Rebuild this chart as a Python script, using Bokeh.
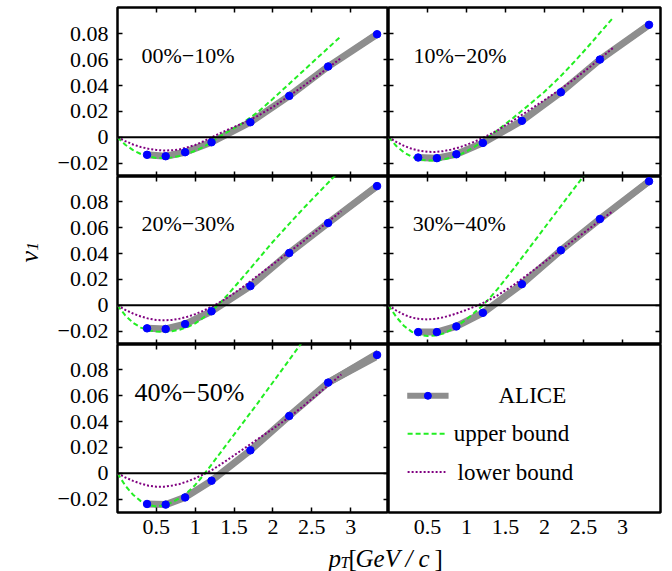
import math
from bokeh.plotting import figure
from bokeh.models import Range1d, LinearAxis, FixedTicker, Span
from bokeh.layouts import column, row
from bokeh.core.properties import value
from bokeh.embed import file_html
from bokeh.resources import INLINE

# ---------------- data ----------------
pt = [0.38, 0.62, 0.87, 1.21, 1.71, 2.21, 2.71, 3.34]

alice_00_10 = [-0.0136, -0.0147, -0.0116, -0.0039, 0.0116, 0.0320, 0.0547, 0.0797]
alice_10_20 = [-0.0157, -0.0162, -0.0132, -0.0044, 0.0127, 0.0348, 0.0601, 0.0870]
alice_20_30 = [-0.0178, -0.0183, -0.0145, -0.0046, 0.0149, 0.0405, 0.0637, 0.0923]
alice_30_40 = [-0.0207, -0.0207, -0.0163, -0.0058, 0.0164, 0.0426, 0.0668, 0.0960]
alice_40_50 = [-0.0237, -0.0242, -0.0186, -0.0057, 0.0178, 0.0444, 0.0702, 0.0916]

err_00_10 = [0.0010, 0.0010, 0.0010, 0.0012, 0.0015, 0.0018, 0.0022, 0.0030]
err_10_20 = [0.0010, 0.0010, 0.0010, 0.0012, 0.0015, 0.0018, 0.0022, 0.0030]
err_20_30 = [0.0010, 0.0010, 0.0010, 0.0012, 0.0015, 0.0020, 0.0025, 0.0032]
err_30_40 = [0.0010, 0.0010, 0.0010, 0.0012, 0.0016, 0.0020, 0.0025, 0.0032]
err_40_50 = [0.0012, 0.0012, 0.0012, 0.0015, 0.0020, 0.0025, 0.0030, 0.0040]

curve_pt = [0.0, 0.1, 0.2, 0.3, 0.4, 0.5, 0.6, 0.7, 0.8, 0.9, 1.0, 1.1, 1.2,
            1.3, 1.4, 1.6, 1.8, 2.0, 2.2, 2.4, 2.6, 2.8, 2.88]

upper_00_10 = [0, -0.0058, -0.0100, -0.0130, -0.0150, -0.0160, -0.0161, -0.0156, -0.0145, -0.0128,
               -0.0105, -0.0077, -0.0043, 0.0000, 0.0035, 0.0105, 0.0192, 0.0297, 0.0408, 0.0519,
               0.0630, 0.0740, 0.0784]
lower_00_10 = [0, -0.0030, -0.0056, -0.0076, -0.0090, -0.0099, -0.0103, -0.0101, -0.0094, -0.0078,
               -0.0060, -0.0033, -0.0004, 0.0025, 0.0053, 0.0105, 0.0163, 0.0234, 0.0316, 0.0400,
               0.0488, 0.0578, 0.0614]
upper_10_20 = [0, -0.0068, -0.0118, -0.0152, -0.0172, -0.0181, -0.0181, -0.0174, -0.0158, -0.0138,
               -0.0110, -0.0075, -0.0035, 0.0010, 0.0055, 0.0150, 0.0250, 0.0352, 0.0468, 0.0595,
               0.0730, 0.0870, 0.0926]
lower_10_20 = [0, -0.0036, -0.0067, -0.0090, -0.0105, -0.0113, -0.0114, -0.0108, -0.0096, -0.0080,
               -0.0059, -0.0035, -0.0008, 0.0022, 0.0055, 0.0130, 0.0208, 0.0288, 0.0370, 0.0458,
               0.0552, 0.0652, 0.0692]
upper_20_30 = [0, -0.0078, -0.0135, -0.0172, -0.0193, -0.0203, -0.0205, -0.0200, -0.0189, -0.0168,
               -0.0140, -0.0098, -0.0050, 0.0005, 0.0070, 0.0208, 0.0350, 0.0492, 0.0625, 0.0755,
               0.0880, 0.1005, 0.1060]
lower_20_30 = [0, -0.0035, -0.0063, -0.0086, -0.0103, -0.0113, -0.0116, -0.0113, -0.0103, -0.0088,
               -0.0068, -0.0043, -0.0014, 0.0018, 0.0053, 0.0135, 0.0228, 0.0318, 0.0408, 0.0500,
               0.0595, 0.0690, 0.0728]
upper_30_40 = [0, -0.0090, -0.0160, -0.0205, -0.0230, -0.0238, -0.0233, -0.0218, -0.0190, -0.0152,
               -0.0108, -0.0058, -0.0005, 0.0058, 0.0128, 0.0280, 0.0440, 0.0600, 0.0760, 0.0920,
               0.1080, 0.1240, 0.1304]
lower_30_40 = [0, -0.0040, -0.0073, -0.0095, -0.0106, -0.0109, -0.0104, -0.0093, -0.0077, -0.0057,
               -0.0035, -0.0011, 0.0015, 0.0045, 0.0078, 0.0155, 0.0245, 0.0336, 0.0426, 0.0515,
               0.0605, 0.0695, 0.0731]
upper_40_50 = [0, -0.0095, -0.0165, -0.0215, -0.0245, -0.0256, -0.0248, -0.0225, -0.0192, -0.0148,
               -0.0090, -0.0018, 0.0060, 0.0140, 0.0220, 0.0380, 0.0540, 0.0705, 0.0870, 0.1035,
               0.1200, 0.1365, 0.1430]
lower_40_50 = [0, -0.0032, -0.0058, -0.0080, -0.0096, -0.0104, -0.0103, -0.0095, -0.0082, -0.0062,
               -0.0038, -0.0010, 0.0020, 0.0058, 0.0098, 0.0180, 0.0263, 0.0345, 0.0430, 0.0525,
               0.0625, 0.0725, 0.0765]

centrality = ["00%\u221210%", "10%\u221220%", "20%\u221230%", "30%\u221240%", "40%\u221250%"]

y_ticks = [-0.02, 0, 0.02, 0.04, 0.06, 0.08]
y_tick_labels = ["\u22120.02", "0", "0.02", "0.04", "0.06", "0.08"]
x_ticks = [0.5, 1, 1.5, 2, 2.5, 3]
x_tick_labels = ["0.5", "1", "1.5", "2", "2.5", "3"]

legend_labels = ["ALICE", "upper bound", "lower bound"]

# ---------------- style ----------------
FONT = "'Liberation Serif', 'Times New Roman', Times, serif"
GRAY = "#8e8e8e"
BLUE = "#0000ff"
GREEN = "#22ee22"
PURPLE = "#800080"
XMAX = 3.487

YLAB_W = 54
LEFT_B, RIGHT_B = 62, 4
FRAME_W = 272
TOP_B = 7
BOTTOM_B = 30
PAGE_H = 571


def add_axis(p, side, ticks, labels, show_labels, ticks_in=5, standoff=6):
    ax = LinearAxis(ticker=FixedTicker(ticks=ticks, minor_ticks=[]))
    ax.axis_line_color = None
    ax.major_tick_in = ticks_in
    ax.major_tick_out = 0
    ax.minor_tick_in = 0
    ax.minor_tick_out = 0
    ax.major_tick_line_color = "black"
    ax.major_tick_line_width = 1.5
    if show_labels:
        ax.major_label_overrides = dict(zip(ticks, labels))
        ax.major_label_text_font = FONT
        ax.major_label_text_font_size = "22px"
        ax.major_label_text_color = "black"
        ax.major_label_standoff = standoff
    else:
        ax.major_label_overrides = {t: "" for t in ticks}
        ax.major_label_text_font_size = "0px"
        ax.major_label_standoff = 0
    p.add_layout(ax, side)


def make_fig(col, rowi, yr, frame_h, ticks=True):
    left = col == 0
    bottom = rowi == 2
    mb_l = LEFT_B if left else 0
    mb_r = 0 if left else RIGHT_B
    mb_t = TOP_B if rowi == 0 else 0
    mb_b = BOTTOM_B if bottom else 0
    p = figure(width=mb_l + FRAME_W + mb_r, height=mb_t + frame_h + mb_b,
               x_range=Range1d(0, XMAX), y_range=Range1d(*yr),
               output_backend="svg", toolbar_location=None,
               x_axis_location=None, y_axis_location=None,
               min_border_left=mb_l, min_border_right=mb_r,
               min_border_top=mb_t, min_border_bottom=mb_b)
    p.grid.visible = False
    p.outline_line_color = "black"
    p.outline_line_width = 2.5
    p.background_fill_color = "white"
    p.border_fill_color = "white"
    tin = 5 if ticks else 0
    add_axis(p, "left", y_ticks, y_tick_labels, left, tin, 9)
    add_axis(p, "right", y_ticks, y_tick_labels, False, tin)
    add_axis(p, "above", x_ticks, x_tick_labels, False, tin)
    add_axis(p, "below", x_ticks, x_tick_labels, bottom, tin, 7)
    return p


def draw_panel(p, vals, err, upper, lower, label, lx, ly, fsize):
    lo = [v - e for v, e in zip(vals, err)]
    hi = [v + e for v, e in zip(vals, err)]
    p.add_layout(Span(location=0, dimension="width", line_color="black", line_width=2))
    p.varea(x=pt, y1=lo, y2=hi, fill_color=GRAY)
    p.line(pt, vals, line_color=GRAY, line_width=7, line_join="round")
    p.line(curve_pt, upper, line_color=GREEN, line_width=2, line_dash="5 3")
    p.line(curve_pt, lower, line_color=PURPLE, line_width=2, line_dash="2 2")
    p.scatter(pt, vals, size=7.5, fill_color=BLUE, line_color=BLUE)
    p.text(x=[lx], y=[ly], text=[label], text_font=value(FONT), text_font_size=fsize,
           text_baseline="middle", text_align="left", text_color="black")


yr_top = (-0.0304, 0.1004)
yr_mid = (-0.0303, 0.0997)

p1 = make_fig(0, 0, yr_top, 169)
p2 = make_fig(1, 0, yr_top, 169)
p3 = make_fig(0, 1, yr_mid, 168)
p4 = make_fig(1, 1, yr_mid, 168)
p5 = make_fig(0, 2, yr_mid, 168)
p6 = make_fig(1, 2, yr_mid, 168, ticks=False)

draw_panel(p1, alice_00_10, err_00_10, upper_00_10, lower_00_10, centrality[0], 0.308, 0.063, "22px")
draw_panel(p2, alice_10_20, err_10_20, upper_10_20, lower_10_20, centrality[1], 0.32, 0.063, "22px")
draw_panel(p3, alice_20_30, err_20_30, upper_20_30, lower_20_30, centrality[2], 0.308, 0.063, "22px")
draw_panel(p4, alice_30_40, err_30_40, upper_30_40, lower_30_40, centrality[3], 0.31, 0.063, "22px")
draw_panel(p5, alice_40_50, err_40_50, upper_40_50, lower_40_50, centrality[4], 0.218, 0.0622, "26px")

# legend panel
p6.line([0.24, 0.77], [0.060, 0.060], line_color=GRAY, line_width=6)
p6.scatter([0.505], [0.060], size=7, fill_color=BLUE, line_color=BLUE)
p6.line([0.245, 0.73], [0.0307, 0.0307], line_color=GREEN, line_width=2, line_dash="5 3")
p6.line([0.245, 0.73], [0.001, 0.001], line_color=PURPLE, line_width=2, line_dash="2 2")
p6.text(x=[1.41, 0.835, 0.885], y=[0.060, 0.0307, 0.001], text=legend_labels,
        text_font=value(FONT), text_font_size="23px", text_baseline="middle",
        text_align="left", text_color="black")

GRID_H = TOP_B + 169 + 168 + 168 + BOTTOM_B

# y-axis title v_1 (rotated, reading upwards)
py = figure(width=YLAB_W, height=GRID_H, x_range=Range1d(0, YLAB_W), y_range=Range1d(0, GRID_H),
            output_backend="svg", toolbar_location=None,
            x_axis_location=None, y_axis_location=None, min_border=0)
py.grid.visible = False
py.outline_line_color = None
py.text(x=[29], y=[GRID_H - 262], text=["v"], angle=math.pi / 2, text_font=value(FONT),
        text_font_style="italic", text_font_size="26px", text_align="left",
        text_baseline="alphabetic", text_color="black")
py.text(x=[32], y=[GRID_H - 250], text=["1"], angle=math.pi / 2, text_font=value(FONT),
        text_font_style="italic", text_font_size="17px", text_align="left",
        text_baseline="alphabetic", text_color="black")

# x-axis title
W = YLAB_W + LEFT_B + FRAME_W + FRAME_W + RIGHT_B
XL_H = PAGE_H - GRID_H
pl = figure(width=W, height=XL_H, x_range=Range1d(0, W), y_range=Range1d(0, XL_H),
            output_backend="svg", toolbar_location=None,
            x_axis_location=None, y_axis_location=None, min_border=0)
pl.grid.visible = False
pl.outline_line_color = None
pl.text(x=[328], y=[13], text=["p"], text_font=value(FONT), text_font_style="italic",
        text_font_size="25px", text_baseline="alphabetic", text_color="black")
pl.text(x=[340], y=[9], text=["T"], text_font=value(FONT), text_font_style="italic",
        text_font_size="16px", text_baseline="alphabetic", text_color="black")
pl.text(x=[348, 434], y=[13, 13], text=["[", "]"], text_font=value(FONT),
        text_font_size="25px", text_baseline="alphabetic", text_color="black")
pl.text(x=[355, 405, 418], y=[13, 13, 13], text=["GeV", "/", "c"], text_font=value(FONT),
        text_font_style="italic", text_font_size="25px", text_baseline="alphabetic",
        text_color="black")

grid = column(row(p1, p2), row(p3, p4), row(p5, p6))
layout = column(row(py, grid), pl)

open("out.html", "w").write(file_html(layout, INLINE))
